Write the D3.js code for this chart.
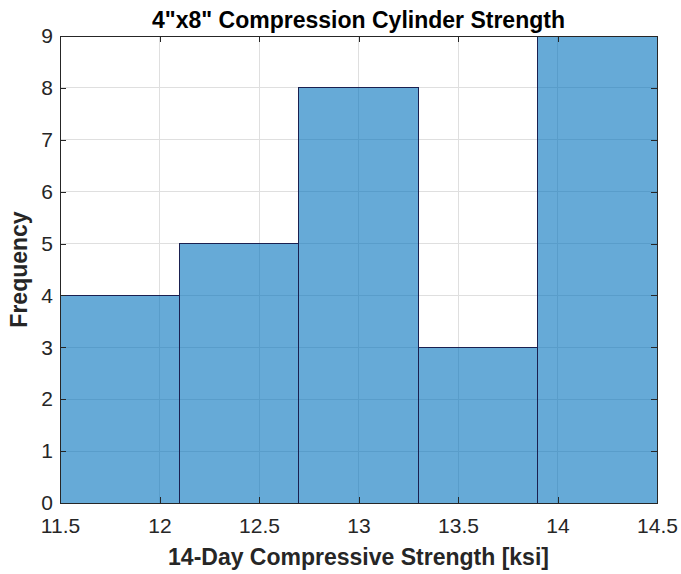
<!DOCTYPE html>
<html><head><meta charset="utf-8">
<script src="https://cdn.jsdelivr.net/npm/d3@7"></script>
<style>body{margin:0;background:#fff}svg{display:block}text{font-family:"Liberation Sans",Arial,sans-serif}</style>
</head><body>
<svg id="c" width="681" height="574"></svg>
<script>
const binEdges = [11.5, 12.1, 12.7, 13.3, 13.9, 14.5];
const counts = [4, 5, 8, 3, 9];
const xTicks = [11.5, 12, 12.5, 13, 13.5, 14, 14.5];
const yTicks = [0,1,2,3,4,5,6,7,8,9];
const title = '4"x8" Compression Cylinder Strength';
const xLabel = '14-Day Compressive Strength [ksi]';
const yLabel = 'Frequency';

const svg = d3.select('#c');
const m = {l:60, t:36, r:657, b:503};
const x = d3.scaleLinear().domain([11.5,14.5]).range([m.l, m.r]);
const y = d3.scaleLinear().domain([0,9]).range([m.b, m.t]);

// grid
svg.append('g').selectAll('line').data(xTicks).join('line')
  .attr('x1',d=>x(d)).attr('x2',d=>x(d)).attr('y1',m.t).attr('y2',m.b)
  .attr('stroke','#dfdfdf').attr('stroke-width',1).attr('shape-rendering','crispEdges');
svg.append('g').selectAll('line').data(yTicks).join('line')
  .attr('y1',d=>y(d)).attr('y2',d=>y(d)).attr('x1',m.l).attr('x2',m.r)
  .attr('stroke','#dfdfdf').attr('stroke-width',1).attr('shape-rendering','crispEdges');

// bars
const bins = counts.map((c,i)=>({x0:binEdges[i], x1:binEdges[i+1], c}));
svg.append('g').selectAll('rect').data(bins).join('rect')
  .attr('x',d=>x(d.x0)).attr('width',d=>x(d.x1)-x(d.x0))
  .attr('y',d=>y(d.c)).attr('height',d=>y(0)-y(d.c))
  .attr('fill','#0072BD').attr('fill-opacity',0.6)
  .attr('stroke','#1a2050').attr('stroke-width',1).attr('shape-rendering','crispEdges');

// axes
const ax = svg.append('g').attr('transform',`translate(0,${m.b})`)
  .call(d3.axisBottom(x).tickValues(xTicks).tickFormat(d3.format('')).tickSizeInner(-6).tickSizeOuter(0).tickPadding(15));
const ax2 = svg.append('g').attr('transform',`translate(0,${m.t})`)
  .call(d3.axisTop(x).tickValues(xTicks).tickFormat('').tickSizeInner(-6).tickSizeOuter(0));
const ay = svg.append('g').attr('transform',`translate(${m.l},0)`)
  .call(d3.axisLeft(y).tickValues(yTicks).tickSizeInner(-6).tickSizeOuter(0).tickPadding(7));
const ay2 = svg.append('g').attr('transform',`translate(${m.r},0)`)
  .call(d3.axisRight(y).tickValues(yTicks).tickFormat('').tickSizeInner(-6).tickSizeOuter(0));
[ax,ax2,ay,ay2].forEach(g=>{
  g.selectAll('path').attr('stroke','#262626').attr('shape-rendering','crispEdges');
  g.selectAll('line').attr('stroke','#262626').attr('shape-rendering','crispEdges');
  g.selectAll('text').attr('font-size',21).attr('fill','#262626').attr('font-family','"Liberation Sans",Arial,sans-serif');
});

svg.append('text').attr('x',(m.l+m.r)/2).attr('y',28).attr('text-anchor','middle')
  .attr('font-size',23).attr('font-weight','bold').attr('fill','#000').text(title);
svg.append('text').attr('x',(m.l+m.r)/2).attr('y',565).attr('text-anchor','middle')
  .attr('font-size',23).attr('font-weight','bold').attr('fill','#262626').text(xLabel);
svg.append('text').attr('transform',`translate(27,${(m.t+m.b)/2}) rotate(-90)`).attr('text-anchor','middle')
  .attr('font-size',23).attr('font-weight','bold').attr('fill','#262626').text(yLabel);
</script>
</body></html>
